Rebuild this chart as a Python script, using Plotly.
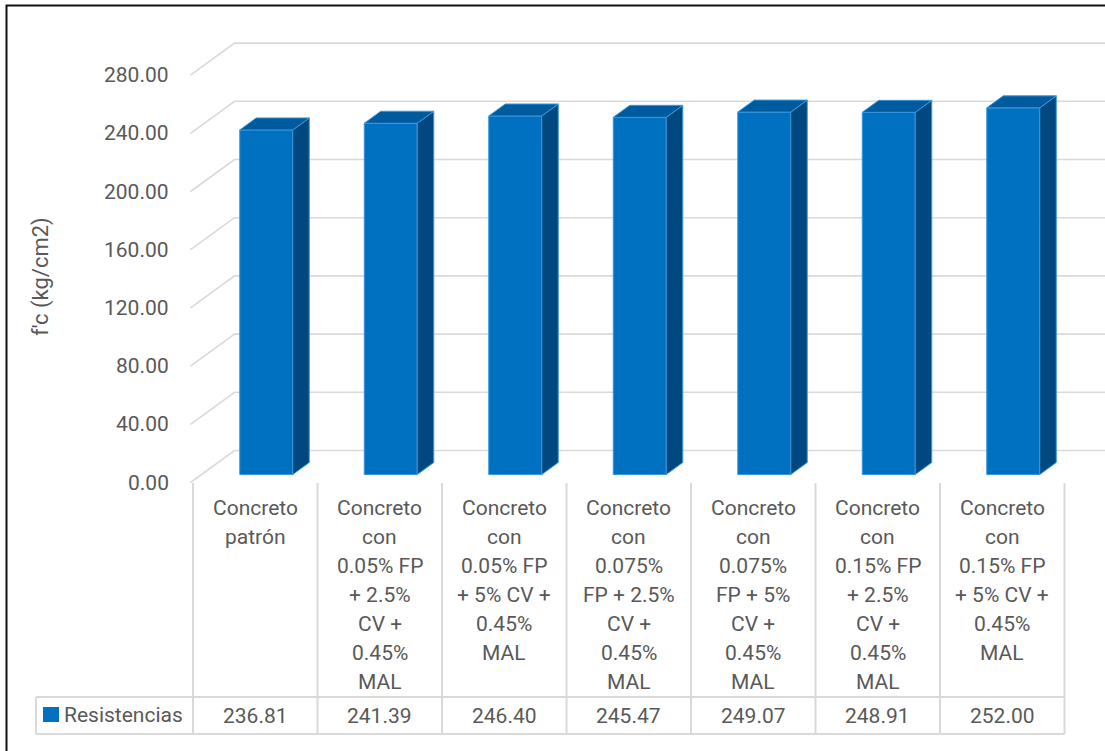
import plotly.graph_objects as go

# ---------------- data ----------------
categories = [
    "Concreto<br>patrón",
    "Concreto<br>con<br>0.05% FP<br>+ 2.5%<br>CV +<br>0.45%<br>MAL",
    "Concreto<br>con<br>0.05% FP<br>+ 5% CV +<br>0.45%<br>MAL",
    "Concreto<br>con<br>0.075%<br>FP + 2.5%<br>CV +<br>0.45%<br>MAL",
    "Concreto<br>con<br>0.075%<br>FP + 5%<br>CV +<br>0.45%<br>MAL",
    "Concreto<br>con<br>0.15% FP<br>+ 2.5%<br>CV +<br>0.45%<br>MAL",
    "Concreto<br>con<br>0.15% FP<br>+ 5% CV +<br>0.45%<br>MAL",
]
resistencias = [236.81, 241.39, 246.40, 245.47, 249.07, 248.91, 252.00]
y_ticks = [0, 40, 80, 120, 160, 200, 240, 280]
series_name = "Resistencias"
y_title = "f'c (kg/cm2)"

# ---------------- layout geometry ----------------
W, H = 1105, 751
COL_PX = 124.5          # pixels per category
COL0_PX = 193           # left edge of first category column
K = 1.455               # pixels per kg/cm2
Y0_PX = 482.5           # pixel row of value 0 on the front plane

def px2x(px):
    return -0.5 + (px - COL0_PX) / COL_PX

def py2y(py):
    return (Y0_PX - py) / K

X_RANGE = [px2x(0), px2x(W)]
Y_RANGE = [py2y(H), py2y(0)]

DX = 44 / COL_PX        # full depth shift (x units)
DY = 32 / K             # full depth shift (y units)
BAR_FRONT = 0.25        # depth fraction of bar front face
BAR_DEPTH = 0.375       # depth fraction of bar thickness
BW = 53 / COL_PX        # bar width (x units)

FRONT = "#0070C0"
SIDE = "#00487F"
TOP = "#005A9E"
EDGE = "#3A97DD"
GRID = "#D9D9D9"
TXT = "#595959"
FONT = "Roboto"
FS = 21

n = len(resistencias)
fig = go.Figure()

# front faces
bx = [i + BAR_FRONT * DX for i in range(n)]
base = BAR_FRONT * DY
fig.add_trace(go.Bar(
    x=bx, y=resistencias, base=base, width=BW,
    marker=dict(color=FRONT, line=dict(color=EDGE, width=1)),
    name=series_name, hoverinfo="skip",
))

# side and top faces
ddx, ddy = BAR_DEPTH * DX, BAR_DEPTH * DY
sx, sy, tx, ty = [], [], [], []
for xc, v in zip(bx, resistencias):
    xl, xr = xc - BW / 2, xc + BW / 2
    b, t = base, base + v
    sx += [xr, xr + ddx, xr + ddx, xr, xr, None]
    sy += [b, b + ddy, t + ddy, t, b, None]
    tx += [xl, xl + ddx, xr + ddx, xr, xl, None]
    ty += [t, t + ddy, t + ddy, t, t, None]
fig.add_trace(go.Scatter(x=sx, y=sy, fill="toself", fillcolor=SIDE, mode="lines",
                         line=dict(color=EDGE, width=1), hoverinfo="skip"))
fig.add_trace(go.Scatter(x=tx, y=ty, fill="toself", fillcolor=TOP, mode="lines",
                         line=dict(color=EDGE, width=1), hoverinfo="skip"))

shapes = []
annotations = []

# gridlines (front diagonal + back wall)
xf = px2x(190.5)
xmax = X_RANGE[1] + 0.1
for t in y_ticks:
    shapes.append(dict(type="path", xref="x", yref="y", layer="below",
                       path=f"M {xf},{t} L {xf+DX},{t+DY} L {xmax},{t+DY}",
                       line=dict(color=GRID, width=1.6)))
    annotations.append(dict(x=px2x(171), y=t, xref="x", yref="y", text=f"{t:.2f}",
                            showarrow=False, xanchor="right", yanchor="middle",
                            font=dict(family=FONT, size=FS, color=TXT)))

# y-axis title
annotations.append(dict(x=px2x(41), y=py2y(277), xref="x", yref="y", text=y_title,
                        textangle=-90, showarrow=False, xanchor="center", yanchor="middle",
                        font=dict(family=FONT, size=FS + 1, color=TXT)))

# data table
tbl_top = py2y(483)
row_line = py2y(697)
tbl_bot = py2y(734)
leg_left = px2x(36)
for i in range(n + 1):
    xv = i - 0.5
    shapes.append(dict(type="line", xref="x", yref="y", x0=xv, x1=xv, y0=tbl_top, y1=tbl_bot,
                       line=dict(color=GRID, width=2)))
shapes.append(dict(type="line", xref="x", yref="y", x0=leg_left, x1=leg_left, y0=row_line, y1=tbl_bot,
                   line=dict(color=GRID, width=2)))
for yy in (row_line, tbl_bot):
    shapes.append(dict(type="line", xref="x", yref="y", x0=leg_left, x1=n - 0.5, y0=yy, y1=yy,
                       line=dict(color=GRID, width=2)))

for i, (lab, v) in enumerate(zip(categories, resistencias)):
    for j, line in enumerate(lab.split("<br>")):
        annotations.append(dict(x=i, y=py2y(507.5 + 29.1 * j), xref="x", yref="y", text=line,
                                showarrow=False, xanchor="center", yanchor="middle",
                                font=dict(family=FONT, size=FS, color=TXT)))
    annotations.append(dict(x=i, y=py2y(716), xref="x", yref="y", text=f"{v:.2f}",
                            showarrow=False, xanchor="center", yanchor="middle",
                            font=dict(family=FONT, size=FS, color=TXT)))

# legend key in table
shapes.append(dict(type="rect", xref="x", yref="y", x0=px2x(43), x1=px2x(59),
                   y0=py2y(707), y1=py2y(722), fillcolor=FRONT, line=dict(width=0)))
annotations.append(dict(x=px2x(62), y=py2y(715), xref="x", yref="y", text=series_name,
                        showarrow=False, xanchor="left", yanchor="middle",
                        font=dict(family=FONT, size=FS, color=TXT)))

# outer chart border (left and top visible)
shapes.append(dict(type="path", xref="paper", yref="paper",
                   path=f"M {6.5/W},-0.01 L {6.5/W},{1-5.5/H} L 1.01,{1-5.5/H}",
                   line=dict(color="#111111", width=2)))

fig.update_layout(
    width=W, height=H,
    margin=dict(l=0, r=0, t=0, b=0),
    paper_bgcolor="white", plot_bgcolor="white",
    showlegend=False,
    xaxis=dict(range=X_RANGE, visible=False, fixedrange=True),
    yaxis=dict(range=Y_RANGE, visible=False, fixedrange=True),
    shapes=shapes, annotations=annotations,
)

fig.write_html("out.html", config={"displayModeBar": False},
               post_script="document.body.style.margin='0';document.body.style.overflow='hidden';")
